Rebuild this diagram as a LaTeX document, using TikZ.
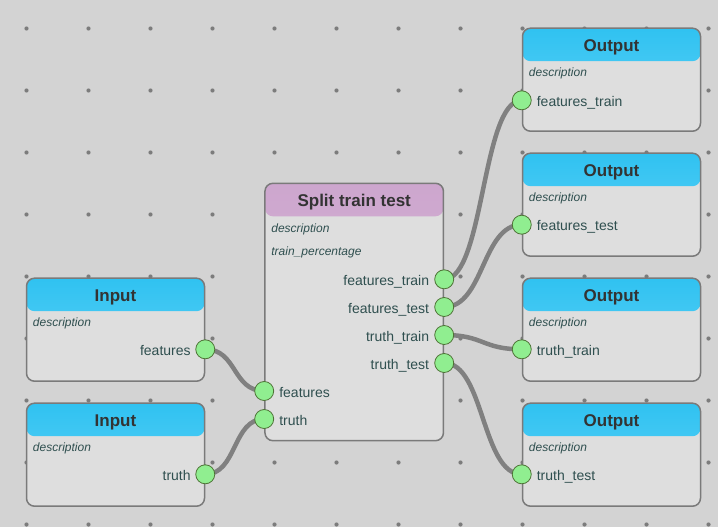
\documentclass[tikz,border=0pt]{standalone}
\usepackage{fontspec}
\setmainfont{Liberation Sans}
\usetikzlibrary{positioning}

\definecolor{canvas}{HTML}{D3D3D3}
\definecolor{bodybg}{HTML}{DEDEDE}
\definecolor{edgecol}{HTML}{7A7A7A}
\definecolor{cyantop}{HTML}{30C2F1}
\definecolor{cyanbot}{HTML}{62D3F7}
\definecolor{mauvetop}{HTML}{CDA6CE}
\definecolor{mauvebot}{HTML}{DABCDA}
\definecolor{portfill}{HTML}{90EE90}
\definecolor{portedge}{HTML}{4E7236}
\definecolor{wirecol}{HTML}{808080}
\definecolor{dotcol}{HTML}{7C7C7C}
\definecolor{labelcol}{HTML}{2F4F4F}
\definecolor{titlecol}{HTML}{333333}

\tikzset{
  block/.style={draw=edgecol, line width=1.5pt, rounded corners=8pt, fill=bodybg,
    inner sep=0pt, minimum width=178pt, minimum height=103pt},
  header/.style 2 args={path picture={\shade[top color=#1, bottom color=#2]
    (path picture bounding box.north west) rectangle ([yshift=-33pt]path picture bounding box.north east);}},
  title/.style={font=\bfseries\fontsize{17}{20}\selectfont, text=titlecol, anchor=base, inner sep=0pt},
  desc/.style={font=\itshape\fontsize{12}{14}\selectfont, text=labelcol, anchor=base west, inner sep=0pt},
  plabel/.style={font=\fontsize{14}{16}\selectfont, text=labelcol, inner sep=0pt, text height=13pt, text depth=1pt},
  port/.style={circle, draw=portedge, fill=portfill, line width=0.8pt, minimum size=19pt, inner sep=0pt},
  wire/.style={draw=wirecol, line width=4.5pt, line cap=round},
  griddot/.style={fill=dotcol}
}

\begin{document}
\begin{tikzpicture}[x=1pt,y=-1pt]
\useasboundingbox (0,0) rectangle (718,527);
\fill[canvas] (0,0) rectangle (718,527);
% background grid
\foreach \i in {0,...,11}
  \foreach \j in {0,...,8}
    \fill[griddot] (26.5+62*\i,28.5+62*\j) circle (2.1);

% blocks
\node[block, header={cyantop}{cyanbot}] (in1) at (115.5,329.7) {};
\node[block, header={cyantop}{cyanbot}] (in2) at (115.5,454.7) {};
\node[block, header={mauvetop}{mauvebot}, minimum width=178.5pt, minimum height=257.4pt] (split) at (354.2,312) {};
\node[block, header={cyantop}{cyanbot}] (out1) at (611.5,79.7) {};
\node[block, header={cyantop}{cyanbot}] (out2) at (611.5,204.7) {};
\node[block, header={cyantop}{cyanbot}] (out3) at (611.5,329.7) {};
\node[block, header={cyantop}{cyanbot}] (out4) at (611.5,454.7) {};

% titles
\node[title] (in1-title) at ([yshift=-24.4pt]in1.north) {Input};
\node[title] (in2-title) at ([yshift=-24.4pt]in2.north) {Input};
\node[title] (split-title) at ([yshift=-23.6pt]split.north) {Split train test};
\foreach \o in {out1,out2,out3,out4}
  \node[title] (\o-title) at ([yshift=-24.4pt]\o.north) {Output};

% descriptions
\foreach \b in {in1,in2,out1,out2,out3,out4}
  \node[desc] (\b-desc) at ([xshift=7pt,yshift=-49.5pt]\b.north west) {description};
\node[desc] (split-desc) at ([xshift=7pt,yshift=-50pt]split.north west) {description};
\node[desc] (split-pct) at ([xshift=7pt,yshift=-73.4pt]split.north west) {train\_percentage};

% wires
\coordinate (in1f) at (in1.east |- 0,349.3);
\coordinate (in2t) at (in2.east |- 0,474.3);
\coordinate (spfi) at (split.west |- 0,391);
\coordinate (spti) at (split.west |- 0,419);
\coordinate (spftr) at (split.east |- 0,279.3);
\coordinate (spfte) at (split.east |- 0,307);
\coordinate (sptrr) at (split.east |- 0,335);
\coordinate (sptte) at (split.east |- 0,363);
\coordinate (o1f) at (out1.west |- 0,100.3);
\coordinate (o2f) at (out2.west |- 0,224.7);
\coordinate (o3f) at (out3.west |- 0,349.3);
\coordinate (o4f) at (out4.west |- 0,474.3);

\draw[wire] (in1f) .. controls +(32,0) and +(-32,0) .. (spfi);
\draw[wire] (in2t) .. controls +(32,0) and +(-32,0) .. (spti);
\draw[wire] (spftr) .. controls +(40,0) and +(-40,0) .. (o1f);
\draw[wire] (spfte) .. controls +(40,0) and +(-40,0) .. (o2f);
\draw[wire] (sptrr) .. controls +(40,0) and +(-40,0) .. (o3f);
\draw[wire] (sptte) .. controls +(40,0) and +(-40,0) .. (o4f);

% ports
\node[port] (in1-features) at (in1f) {};
\node[port] (in2-truth) at (in2t) {};
\node[port] (split-features) at (spfi) {};
\node[port] (split-truth) at (spti) {};
\node[port] (split-ftrain) at (spftr) {};
\node[port] (split-ftest) at (spfte) {};
\node[port] (split-ttrain) at (sptrr) {};
\node[port] (split-ttest) at (sptte) {};
\node[port] (out1-ftrain) at (o1f) {};
\node[port] (out2-ftest) at (o2f) {};
\node[port] (out3-ttrain) at (o3f) {};
\node[port] (out4-ttest) at (o4f) {};

% port labels
\node[plabel, left=4.5pt of in1-features] {features};
\node[plabel, left=4.5pt of in2-truth] {truth};
\node[plabel, right=5pt of split-features] {features};
\node[plabel, right=5pt of split-truth] {truth};
\node[plabel, left=5pt of split-ftrain] {features\_train};
\node[plabel, left=5pt of split-ftest] {features\_test};
\node[plabel, left=5pt of split-ttrain] {truth\_train};
\node[plabel, left=5pt of split-ttest] {truth\_test};
\node[plabel, right=5pt of out1-ftrain] {features\_train};
\node[plabel, right=5pt of out2-ftest] {features\_test};
\node[plabel, right=5pt of out3-ttrain] {truth\_train};
\node[plabel, right=5pt of out4-ttest] {truth\_test};
\end{tikzpicture}
\end{document}
